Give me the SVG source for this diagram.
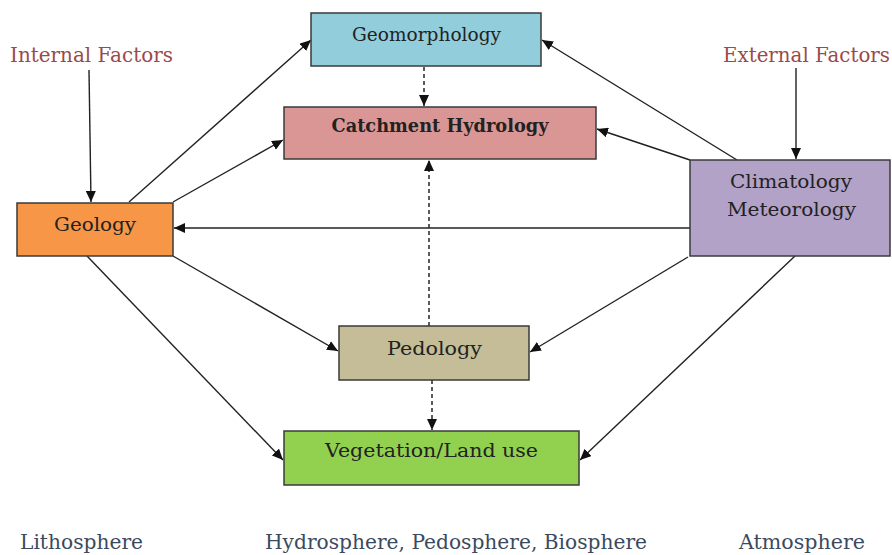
<svg xmlns="http://www.w3.org/2000/svg" width="892" height="555" viewBox="0 0 892 555">
<defs>
<marker id="ah" markerWidth="12" markerHeight="10" refX="11" refY="5" orient="auto" markerUnits="userSpaceOnUse">
<path d="M0,0 L11,5 L0,10 Z" fill="#111"/>
</marker>
</defs>
<style>
.box{stroke:#3a3a3a;stroke-width:1.5}
.lbl{font-family:"DejaVu Serif","Liberation Serif",serif;font-size:19px;fill:#222;text-anchor:middle}
.b{font-weight:bold}
.fac{font-family:"DejaVu Serif","Liberation Serif",serif;font-size:20px;fill:#9b4a4a}
.sph{font-family:"DejaVu Serif","Liberation Serif",serif;font-size:20px;fill:#3b4a5e}
.c{stroke:#222;stroke-width:1.4;fill:none;marker-end:url(#ah)}
.d{stroke:#333;stroke-width:1.6;fill:none;stroke-dasharray:4 3;marker-end:url(#ah)}
</style>
<rect width="892" height="555" fill="#fff"/>
<g id="connectors">
<line class="c" x1="89" y1="70" x2="91" y2="202"/>
<line class="c" x1="796" y1="68" x2="796" y2="159"/>
<line class="c" x1="129" y1="202" x2="311" y2="40"/>
<line class="c" x1="173" y1="202" x2="283" y2="140"/>
<line class="c" x1="737" y1="160" x2="542" y2="40"/>
<line class="c" x1="690" y1="160" x2="597" y2="129"/>
<line class="c" x1="690" y1="228" x2="174" y2="228"/>
<line class="c" x1="688" y1="257" x2="530" y2="352"/>
<line class="c" x1="795" y1="256" x2="580" y2="460"/>
<line class="c" x1="173" y1="256" x2="338" y2="351"/>
<line class="c" x1="87" y1="256" x2="283" y2="460"/>
<line class="d" x1="424" y1="67" x2="424" y2="106"/>
<line class="d" x1="429" y1="326" x2="429" y2="160"/>
<line class="d" x1="432" y1="380" x2="432" y2="430"/>
</g>
<g id="geomorphology">
<rect class="box" x="311" y="13" width="230" height="53" fill="#92cddc"/>
<text class="lbl" x="426.5" y="41" textLength="149" lengthAdjust="spacingAndGlyphs">Geomorphology</text>
</g>
<g id="catchment">
<rect class="box" x="284" y="107" width="312" height="52" fill="#da9694"/>
<text class="lbl b" x="440" y="132" textLength="217" lengthAdjust="spacingAndGlyphs">Catchment Hydrology</text>
</g>
<g id="geology">
<rect class="box" x="17" y="203" width="156" height="53" fill="#f79646"/>
<text class="lbl" x="95" y="231" textLength="82" lengthAdjust="spacingAndGlyphs">Geology</text>
</g>
<g id="climatology">
<rect class="box" x="690" y="160" width="200" height="96" fill="#b2a2c7"/>
<text class="lbl" x="791" y="188" textLength="122" lengthAdjust="spacingAndGlyphs">Climatology</text>
<text class="lbl" x="791.5" y="216" textLength="129" lengthAdjust="spacingAndGlyphs">Meteorology</text>
</g>
<g id="pedology">
<rect class="box" x="339" y="326" width="190" height="54" fill="#c4bd97"/>
<text class="lbl" x="434.5" y="355" textLength="95" lengthAdjust="spacingAndGlyphs">Pedology</text>
</g>
<g id="vegetation">
<rect class="box" x="284" y="431" width="295" height="54" fill="#92d050"/>
<text class="lbl" x="431.5" y="457" textLength="213" lengthAdjust="spacingAndGlyphs">Vegetation/Land use</text>
</g>
<g id="labels">
<text class="fac" x="10" y="62" textLength="163" lengthAdjust="spacingAndGlyphs">Internal Factors</text>
<text class="fac" x="723" y="62" textLength="167" lengthAdjust="spacingAndGlyphs">External Factors</text>
<text class="sph" x="20" y="549" textLength="123" lengthAdjust="spacingAndGlyphs">Lithosphere</text>
<text class="sph" x="265" y="549" textLength="382" lengthAdjust="spacingAndGlyphs">Hydrosphere, Pedosphere, Biosphere</text>
<text class="sph" x="739" y="549" textLength="126" lengthAdjust="spacingAndGlyphs">Atmosphere</text>
</g>
</svg>
